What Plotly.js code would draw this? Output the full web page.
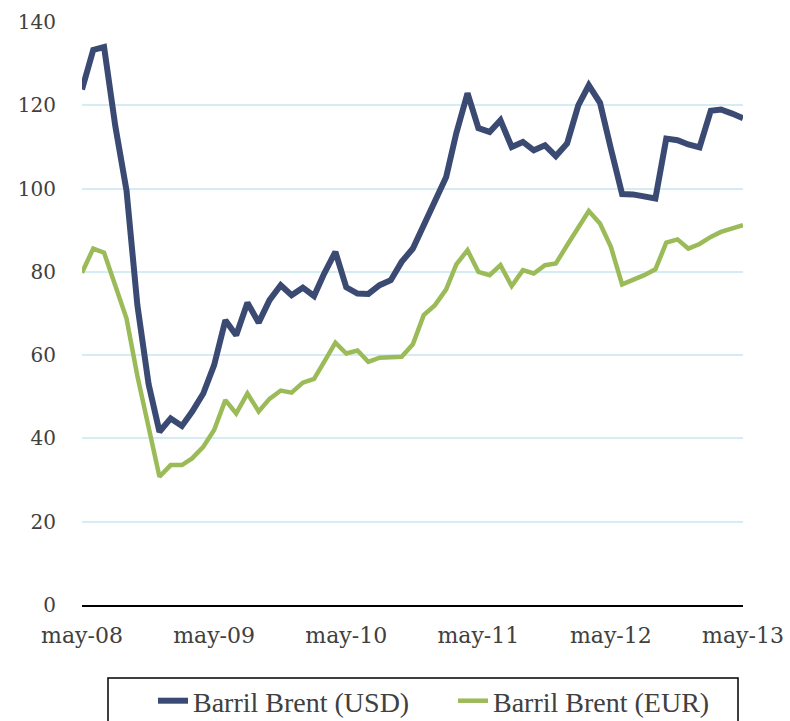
<!DOCTYPE html>
<html>
<head>
<meta charset="utf-8">
<script src="https://cdn.plot.ly/plotly-3.0.1.min.js"></script>
<style>html,body{margin:0;padding:0;background:#fff;}#chart{width:790px;height:721px;}</style>
</head>
<body>
<div id="chart"></div>
<script>
const months = [
  "2008-05","2008-06","2008-07","2008-08","2008-09","2008-10","2008-11","2008-12",
  "2009-01","2009-02","2009-03","2009-04","2009-05","2009-06","2009-07","2009-08","2009-09","2009-10","2009-11","2009-12",
  "2010-01","2010-02","2010-03","2010-04","2010-05","2010-06","2010-07","2010-08","2010-09","2010-10","2010-11","2010-12",
  "2011-01","2011-02","2011-03","2011-04","2011-05","2011-06","2011-07","2011-08","2011-09","2011-10","2011-11","2011-12",
  "2012-01","2012-02","2012-03","2012-04","2012-05","2012-06","2012-07","2012-08","2012-09","2012-10","2012-11","2012-12",
  "2013-01","2013-02","2013-03","2013-04","2013-05"
];
const brentUSD = [
  123.8,133.3,134.0,115.0,99.5,72.0,53.0,41.6,
  44.8,43.0,46.4,50.8,57.6,68.4,64.8,72.6,67.8,73.2,76.8,74.4,
  76.2,74.2,79.6,84.8,76.3,74.8,74.7,76.8,78.0,82.4,85.6,91.2,
  96.5,102.8,113.3,122.9,114.5,113.6,116.4,110.0,111.2,109.2,110.4,107.8,
  110.8,120.0,124.8,120.6,109.6,98.7,98.6,98.2,97.6,112.0,111.6,110.6,
  109.9,118.7,119.0,118.0,116.9
];
const brentEUR = [
  79.8,85.6,84.6,76.4,68.8,55.0,43.2,30.8,
  33.6,33.6,35.2,38.0,42.0,49.2,46.0,50.8,46.5,49.5,51.5,51.0,
  53.4,54.3,58.4,63.0,60.4,61.1,58.4,59.4,59.5,59.6,62.6,69.6,
  72.0,75.8,81.8,85.2,80.0,79.2,81.6,76.6,80.4,79.6,81.6,82.0,
  86.4,90.8,94.6,91.6,86.0,77.0,78.0,79.2,80.6,87.0,87.8,85.6,
  86.7,88.4,89.6,90.5,91.2
];
const tickVals = ["2008-05-01","2009-05-01","2010-05-01","2011-05-01","2012-05-01","2013-05-01"];
const tickText = ["may-08","may-09","may-10","may-11","may-12","may-13"];
const yTicks = [0,20,40,60,80,100,120,140];

const FONT = "DejaVu Serif, Liberation Serif, serif";
const LFONT = "Liberation Serif, Times New Roman, serif";
const TXT = "#404040";
const traces = [
  {x: months, y: brentUSD, name: "Barril Brent (USD)", type: "scatter", mode: "lines",
   line: {color: "#3A4A72", width: 6}},
  {x: months, y: brentEUR, name: "Barril Brent (EUR)", type: "scatter", mode: "lines",
   line: {color: "#9BBB59", width: 4.5}}
];
// plot area in px: x 82..743, y 22..605
const px = v => (v - 82) / 661;
const py = v => (605 - v) / 583;
const layout = {
  width: 790, height: 721,
  margin: {l: 82, r: 47, t: 22, b: 116, autoexpand: false},
  paper_bgcolor: "#fff", plot_bgcolor: "#fff",
  font: {family: FONT, size: 19, color: TXT},
  showlegend: true,
  xaxis: {
    type: "date", range: ["2008-05-01","2013-05-01"],
    tickvals: tickVals, ticktext: tickText,
    showgrid: false, zeroline: false,
    showline: true, linecolor: "#000", linewidth: 2,
    ticks: "", ticklabelstandoff: 10,
    tickfont: {family: FONT, size: 22, color: TXT}
  },
  yaxis: {
    range: [0, 140], tickvals: yTicks,
    showgrid: true, gridcolor: "#D6ECF5", gridwidth: 2,
    zeroline: false, showline: false, ticks: "",
    ticklabelstandoff: 25,
    tickfont: {family: FONT, size: 20, color: TXT}
  },
  legend: {
    orientation: "h", x: px(153), xanchor: "left", y: py(676), yanchor: "top",
    borderwidth: 0, bgcolor: "rgba(0,0,0,0)",
    font: {family: LFONT, size: 28, color: TXT},
    entrywidth: 255
  },
  shapes: [
    {type: "rect", xref: "paper", yref: "paper",
     x0: px(108), x1: px(738), y0: py(735), y1: py(678),
     line: {color: "#000", width: 1.5}, fillcolor: "rgba(0,0,0,0)", layer: "above"}
  ]
};
Plotly.newPlot("chart", traces, layout, {displayModeBar: false, staticPlot: true});
</script>
</body>
</html>
